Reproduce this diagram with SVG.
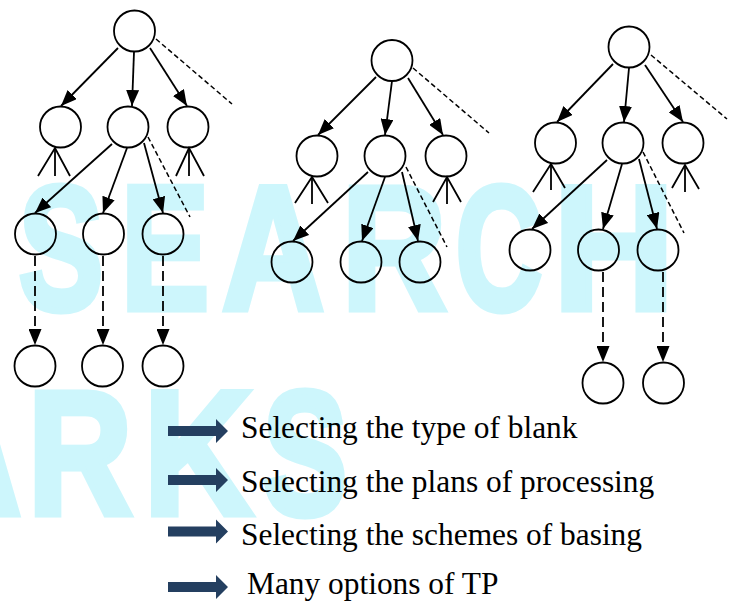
<svg xmlns="http://www.w3.org/2000/svg" width="736" height="602" viewBox="0 0 736 602">
<style>
.wm{font-family:"Liberation Sans",Arial,sans-serif;font-weight:bold;font-size:176px;fill:#cdf6fc;stroke:#cdf6fc;stroke-width:7;stroke-linejoin:miter;text-anchor:middle}
.node{fill:none;stroke:#000;stroke-width:1.8}
.edge{stroke:#000;stroke-width:1.8;fill:none;marker-end:url(#ah)}
.dash{stroke:#000;stroke-width:1.5;fill:none;stroke-dasharray:5 3}
.vdash{stroke:#000;stroke-width:1.8;fill:none;stroke-dasharray:10 5;marker-end:url(#ah)}
.fan{stroke:#000;stroke-width:1.8;fill:none}
.lbl{font-family:"Liberation Serif","Times New Roman",serif;font-size:31.4px;fill:#000}
.barrow{fill:#243f60}
</style>
<defs>
<marker id="ah" markerUnits="userSpaceOnUse" markerWidth="16" markerHeight="13" refX="16" refY="6.5" orient="auto">
<path d="M0,0 L16,6.5 L0,13 z" fill="#000"/>
</marker>
</defs>
<rect width="736" height="602" fill="#fff"/>
<g id="watermark">
<text class="wm" transform="translate(61,309) scale(0.72,1)">S</text>
<text class="wm" transform="translate(165,309) scale(0.75,1)">E</text>
<text class="wm" transform="translate(273,309) scale(0.80,1)">A</text>
<text class="wm" transform="translate(394,309) scale(0.82,1)">R</text>
<text class="wm" transform="translate(499,309) scale(0.68,1)">C</text>
<text class="wm" transform="translate(614,309) scale(0.95,1)">H</text>
<text class="wm" transform="translate(-30,514) scale(0.80,1)">A</text>
<text class="wm" transform="translate(80,514) scale(0.82,1)">R</text>
<text class="wm" transform="translate(198,514) scale(0.85,1)">K</text>
<text class="wm" transform="translate(305,514) scale(0.72,1)">S</text>
</g>
<g id="connectors">
<line class="edge" x1="118" y1="48" x2="61" y2="106"/>
<line class="edge" x1="134" y1="52" x2="132" y2="106"/>
<line class="edge" x1="150" y1="48" x2="187" y2="106"/>
<line class="dash" x1="156" y1="39" x2="232" y2="104"/>
<polyline class="fan" points="38,176 55,148 70,176"/>
<line class="fan" x1="55" y1="148" x2="55" y2="176"/>
<polyline class="fan" points="176,176 189,148 204,176"/>
<line class="fan" x1="189" y1="148" x2="189" y2="176"/>
<line class="edge" x1="112" y1="144" x2="35" y2="213"/>
<line class="edge" x1="127" y1="148" x2="103" y2="213"/>
<line class="edge" x1="144" y1="143" x2="163" y2="213"/>
<line class="dash" x1="148" y1="137" x2="190" y2="217"/>
<line class="vdash" x1="35" y1="256" x2="35" y2="345"/>
<line class="vdash" x1="103" y1="256" x2="103" y2="345"/>
<line class="vdash" x1="163" y1="256" x2="163" y2="345"/>
<line class="edge" x1="376" y1="77" x2="318" y2="135"/>
<line class="edge" x1="392" y1="81" x2="385" y2="135"/>
<line class="edge" x1="408" y1="78" x2="443" y2="135"/>
<line class="dash" x1="413" y1="68" x2="489" y2="133"/>
<polyline class="fan" points="295,203 312,177 328,203"/>
<line class="fan" x1="312" y1="177" x2="312" y2="204"/>
<polyline class="fan" points="433,202 447,177 461,202"/>
<line class="fan" x1="447" y1="177" x2="447" y2="204"/>
<line class="edge" x1="368" y1="172" x2="293" y2="241"/>
<line class="edge" x1="385" y1="177" x2="362" y2="241"/>
<line class="edge" x1="402" y1="172" x2="418" y2="241"/>
<line class="dash" x1="406" y1="167" x2="447" y2="247"/>
<line class="edge" x1="613" y1="64" x2="557" y2="122"/>
<line class="edge" x1="629" y1="68" x2="624" y2="122"/>
<line class="edge" x1="645" y1="65" x2="683" y2="122"/>
<line class="dash" x1="651" y1="55" x2="727" y2="119"/>
<polyline class="fan" points="533,192 551,164 565,188"/>
<line class="fan" x1="551" y1="164" x2="551" y2="190"/>
<polyline class="fan" points="672,188 685,165 699,189"/>
<line class="fan" x1="685" y1="165" x2="685" y2="192"/>
<line class="edge" x1="607" y1="160" x2="532" y2="229"/>
<line class="edge" x1="622" y1="164" x2="603" y2="229"/>
<line class="edge" x1="639" y1="159" x2="657" y2="229"/>
<line class="dash" x1="643" y1="152" x2="684" y2="233"/>
<line class="vdash" x1="603" y1="272" x2="603" y2="362"/>
<line class="vdash" x1="663" y1="272" x2="663" y2="362"/>
</g>
<g id="t1-root"><circle class="node" cx="134.5" cy="31" r="20.5"/></g>
<g id="t1-b1"><circle class="node" cx="60.5" cy="127" r="20.5"/></g>
<g id="t1-b2"><circle class="node" cx="128" cy="127" r="20.5"/></g>
<g id="t1-b3"><circle class="node" cx="188" cy="127" r="20.5"/></g>
<g id="t1-c1"><circle class="node" cx="35.5" cy="234" r="20.5"/></g>
<g id="t1-c2"><circle class="node" cx="103.5" cy="234" r="20.5"/></g>
<g id="t1-c3"><circle class="node" cx="163" cy="234" r="20.5"/></g>
<g id="t1-d1"><circle class="node" cx="35" cy="366" r="20.5"/></g>
<g id="t1-d2"><circle class="node" cx="102.5" cy="366" r="20.5"/></g>
<g id="t1-d3"><circle class="node" cx="163" cy="366" r="20.5"/></g>
<g id="t2-root"><circle class="node" cx="392" cy="60.5" r="20.5"/></g>
<g id="t2-b1"><circle class="node" cx="317" cy="156" r="20.5"/></g>
<g id="t2-b2"><circle class="node" cx="385" cy="156" r="20.5"/></g>
<g id="t2-b3"><circle class="node" cx="446" cy="156" r="20.5"/></g>
<g id="t2-c1"><circle class="node" cx="292" cy="262" r="20.5"/></g>
<g id="t2-c2"><circle class="node" cx="361" cy="262" r="20.5"/></g>
<g id="t2-c3"><circle class="node" cx="420" cy="262" r="20.5"/></g>
<g id="t3-root"><circle class="node" cx="629" cy="47" r="20.5"/></g>
<g id="t3-b1"><circle class="node" cx="555.5" cy="143" r="20.5"/></g>
<g id="t3-b2"><circle class="node" cx="623" cy="143" r="20.5"/></g>
<g id="t3-b3"><circle class="node" cx="683" cy="143" r="20.5"/></g>
<g id="t3-c1"><circle class="node" cx="530" cy="250" r="20.5"/></g>
<g id="t3-c2"><circle class="node" cx="598.5" cy="250" r="20.5"/></g>
<g id="t3-c3"><circle class="node" cx="658" cy="250" r="20.5"/></g>
<g id="t3-d1"><circle class="node" cx="603" cy="383" r="20.5"/></g>
<g id="t3-d2"><circle class="node" cx="663.5" cy="383" r="20.5"/></g>
<g id="legend">
<polygon class="barrow" points="168,426 216,426 216,419 228,431 216,443 216,436 168,436"/>
<text class="lbl" x="241" y="438">Selecting the type of blank</text>
<polygon class="barrow" points="168,475 216,475 216,468 228,480 216,492 216,485 168,485"/>
<text class="lbl" x="241" y="492">Selecting the plans of processing</text>
<polygon class="barrow" points="168,526.5 216,526.5 216,519.5 228,531.5 216,543.5 216,536.5 168,536.5"/>
<text class="lbl" x="241" y="545">Selecting the schemes of basing</text>
<polygon class="barrow" points="168,582 216,582 216,575 228,587 216,599 216,592 168,592"/>
<text class="lbl" x="247" y="594">Many options of TP</text>
</g>
</svg>
